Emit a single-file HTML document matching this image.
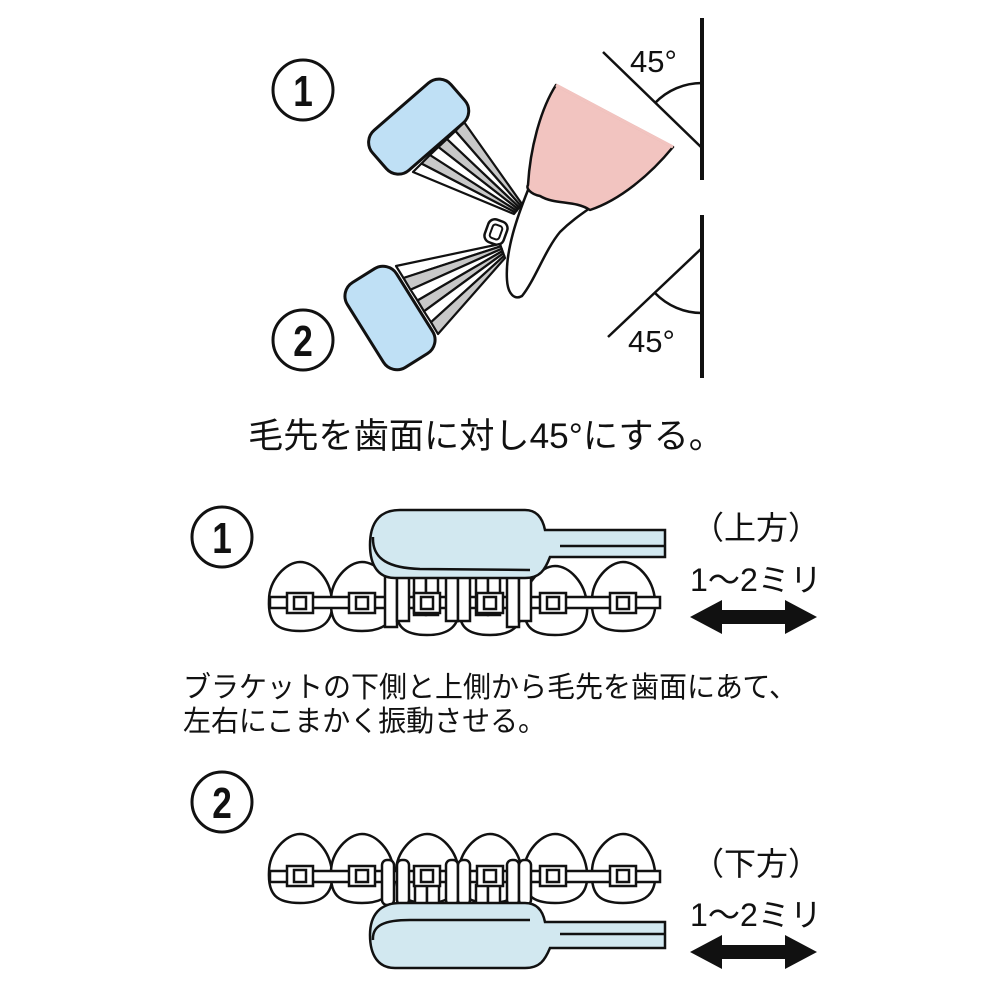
<!DOCTYPE html>
<html><head><meta charset="utf-8"><style>
html,body{margin:0;padding:0;background:#fff}
svg{display:block}
text{font-family:"Liberation Sans","Noto Sans CJK JP",sans-serif;fill:#111}
.num{font-weight:bold;font-size:44px}
</style></head><body>
<svg width="1000" height="1000" viewBox="0 0 1000 1000" xmlns="http://www.w3.org/2000/svg">
<defs>
<g id="tooth"><path d="M-31,38 C-31,18 -14,0 0,0 C14,0 30,16 32,38 C34,60 22,69 0,69 C-24,69 -32,60 -31,38Z" fill="#fff" stroke="#111" stroke-width="2.5"/></g>
<g id="brk"><rect x="-13" y="-10" width="26" height="20" fill="#fff" stroke="#111" stroke-width="2.5"/><rect x="-6" y="-6" width="12" height="12" fill="#fff" stroke="#111" stroke-width="2.5"/></g>
</defs>
<circle cx="303" cy="90" r="30" fill="none" stroke="#111" stroke-width="3"/>
<text x="303" y="106" class="num" text-anchor="middle" transform="translate(303 0) scale(0.8 1) translate(-303 0)">1</text>
<circle cx="303" cy="340" r="30" fill="none" stroke="#111" stroke-width="3"/>
<text x="303" y="356" class="num" text-anchor="middle" transform="translate(303 0) scale(0.8 1) translate(-303 0)">2</text>

<g stroke="#111" fill="none">
<line x1="702" y1="18" x2="702" y2="180" stroke-width="4"/>
<line x1="702" y1="215" x2="702" y2="378" stroke-width="4"/>
<line x1="603" y1="52" x2="702" y2="148" stroke-width="2.5"/>
<line x1="608" y1="337" x2="702" y2="248" stroke-width="2.5"/>
<path d="M655,103 A65,65 0 0 1 702,83" stroke-width="2.5"/>
<path d="M655,293 A65,65 0 0 0 702,313" stroke-width="2.5"/>
</g>
<text x="630" y="72" font-size="31">45°</text>
<text x="628" y="352" font-size="31">45°</text>

<path d="M528,190 C518,215 505,250 507,280 C508,295 515,300 522,296 C535,280 545,250 560,232 C570,222 580,215 590,208 Z" fill="#fff" stroke="#111" stroke-width="2.5"/>
<path d="M556,85 L673,147 C650,175 620,200 590,210 C575,200 555,205 540,196 C530,194 526,188 528,185 C530,150 540,110 556,85Z" fill="#f2c4c0" stroke="#111" stroke-width="2.5" stroke-linejoin="round"/>
<line x1="556" y1="85" x2="673" y2="147" stroke="#f2c4c0" stroke-width="3"/>
<rect x="486" y="220" width="20" height="24" rx="7" fill="#fff" stroke="#111" stroke-width="2.5" transform="rotate(20 496 232)"/>
<rect x="491" y="225" width="10" height="14" rx="3" fill="#fff" stroke="#111" stroke-width="2" transform="rotate(20 496 232)"/>

<g stroke="#111" stroke-width="2.2" stroke-linejoin="round">
<polygon points="413,172 421.5,163.5 515.3,212.3 514,214" fill="#fff"/>
<polygon points="421.5,163.5 430,155 516.7,210.7 515.3,212.3" fill="#c8c8c8"/>
<polygon points="430,155 438.5,147 518,209 516.7,210.7" fill="#fff"/>
<polygon points="438.5,147 447,139 519.3,207.3 518,209" fill="#c8c8c8"/>
<polygon points="447,139 455.5,131 520.7,205.7 519.3,207.3" fill="#fff"/>
<polygon points="455.5,131 464,122 522,204 520.7,205.7" fill="#c8c8c8"/>
</g>
<rect x="367" y="100" width="104" height="53" rx="16" fill="#bfe0f5" stroke="#111" stroke-width="3" transform="rotate(-41 419 127)"/>

<g stroke="#111" stroke-width="2.2" stroke-linejoin="round">
<polygon points="396,266 403.5,278 500.8,246.3 500,244" fill="#fff"/>
<polygon points="403.5,278 410.5,289.7 501.7,248.7 500.8,246.3" fill="#c8c8c8"/>
<polygon points="410.5,289.7 417.5,300.5 502.5,251 501.7,248.7" fill="#fff"/>
<polygon points="417.5,300.5 424,311.3 503.3,253.3 502.5,251" fill="#c8c8c8"/>
<polygon points="424,311.3 431,322.2 504.2,255.7 503.3,253.3" fill="#fff"/>
<polygon points="431,322.2 438,334 505,258 504.2,255.7" fill="#c8c8c8"/>
</g>
<rect x="340" y="289" width="100" height="58" rx="16" fill="#bfe0f5" stroke="#111" stroke-width="3" transform="rotate(58 390 318)"/>

<text x="248" y="448" font-size="35" textLength="476" lengthAdjust="spacingAndGlyphs">毛先を歯面に対し45°にする。</text>

<circle cx="222" cy="537" r="30" fill="none" stroke="#111" stroke-width="3"/>
<text x="222" y="553" class="num" text-anchor="middle" transform="translate(222 0) scale(0.8 1) translate(-222 0)">1</text>
<use href="#tooth" transform="translate(300,562)"/>
<use href="#tooth" transform="translate(362,562)"/>
<use href="#tooth" transform="translate(427,566)"/>
<use href="#tooth" transform="translate(490,566)"/>
<use href="#tooth" transform="translate(555,566)"/>
<use href="#tooth" transform="translate(623,562)"/>
<rect x="270" y="597" width="390" height="11" fill="#fff" stroke="#111" stroke-width="2.5"/>
<g fill="#fff" stroke="#111" stroke-width="2.5">
<rect x="385" y="575" width="12" height="52"/><rect x="397" y="575" width="12" height="46"/>
<rect x="414" y="575" width="12" height="40"/><rect x="426" y="575" width="12" height="40"/>
<rect x="446" y="575" width="12" height="46"/><rect x="458" y="575" width="12" height="46"/>
<rect x="476" y="575" width="12" height="40"/><rect x="488" y="575" width="12" height="40"/>
<rect x="507" y="575" width="12" height="52"/><rect x="519" y="575" width="12" height="46"/>
</g>
<use href="#brk" transform="translate(300,603)"/><use href="#brk" transform="translate(362,603)"/>
<use href="#brk" transform="translate(427,603)"/><use href="#brk" transform="translate(490,603)"/>
<use href="#brk" transform="translate(553,603)"/><use href="#brk" transform="translate(623,603)"/>
<path d="M545,530 L665,530 L665,557 L550,557 C545,570 540,578 525,578 L395,578 C378,578 370,565 370,545 C370,522 380,510 400,510 L525,510 C538,510 543,520 545,530Z" fill="#d2e8f0" stroke="#111" stroke-width="2.5"/>
<path d="M373,537 C372,560 390,568 420,569 L530,570" fill="none" stroke="#111" stroke-width="2.5"/>
<line x1="560" y1="546" x2="665" y2="546" stroke="#111" stroke-width="2.5"/>
<text x="692" y="539" font-size="32">（上方）</text>
<text x="690" y="591" font-size="32" textLength="132" lengthAdjust="spacingAndGlyphs">1～2ミリ</text>
<polygon points="690,617 722,600 722,610 785,610 785,600 817,617 785,634 785,624 722,624 722,634" fill="#111"/>

<text x="183" y="697" font-size="29" textLength="614" lengthAdjust="spacingAndGlyphs">ブラケットの下側と上側から毛先を歯面にあて、</text>
<text x="183" y="731" font-size="29" textLength="363" lengthAdjust="spacingAndGlyphs">左右にこまかく振動させる。</text>

<circle cx="222" cy="802" r="30" fill="none" stroke="#111" stroke-width="3"/>
<text x="222" y="818" class="num" text-anchor="middle" transform="translate(222 0) scale(0.8 1) translate(-222 0)">2</text>
<use href="#tooth" transform="translate(300,834)"/>
<use href="#tooth" transform="translate(362,834)"/>
<use href="#tooth" transform="translate(427,834)"/>
<use href="#tooth" transform="translate(490,834)"/>
<use href="#tooth" transform="translate(555,834)"/>
<use href="#tooth" transform="translate(623,834)"/>
<rect x="270" y="871" width="390" height="11" fill="#fff" stroke="#111" stroke-width="2.5"/>
<g fill="#fff" stroke="#111" stroke-width="2.5">
<rect x="382" y="860" width="12" height="45" rx="5"/><rect x="397" y="860" width="12" height="45" rx="5"/>
<rect x="415" y="885" width="12" height="20"/><rect x="427" y="885" width="12" height="20"/>
<rect x="446" y="860" width="12" height="45" rx="5"/><rect x="458" y="860" width="12" height="45" rx="5"/>
<rect x="476" y="885" width="12" height="20"/><rect x="488" y="885" width="12" height="20"/>
<rect x="507" y="860" width="12" height="45" rx="5"/><rect x="519" y="860" width="12" height="45" rx="5"/>
</g>
<use href="#brk" transform="translate(300,876)"/><use href="#brk" transform="translate(362,876)"/>
<use href="#brk" transform="translate(427,876)"/><use href="#brk" transform="translate(490,876)"/>
<use href="#brk" transform="translate(553,876)"/><use href="#brk" transform="translate(623,876)"/>
<path d="M545,922 L665,922 L665,948 L550,948 C545,960 540,968 525,968 L395,968 C378,968 370,955 370,935 C370,915 380,903 400,903 L525,903 C538,903 543,912 545,922Z" fill="#d2e8f0" stroke="#111" stroke-width="2.5"/>
<path d="M373,940 C372,925 385,920 410,920 L530,920" fill="none" stroke="#111" stroke-width="2.5"/>
<line x1="560" y1="934" x2="665" y2="934" stroke="#111" stroke-width="2.5"/>
<text x="692" y="875" font-size="32">（下方）</text>
<text x="690" y="926" font-size="32" textLength="132" lengthAdjust="spacingAndGlyphs">1～2ミリ</text>
<polygon points="690,952 722,935 722,945 785,945 785,935 817,952 785,969 785,959 722,959 722,969" fill="#111"/>
</svg>
</body></html>
